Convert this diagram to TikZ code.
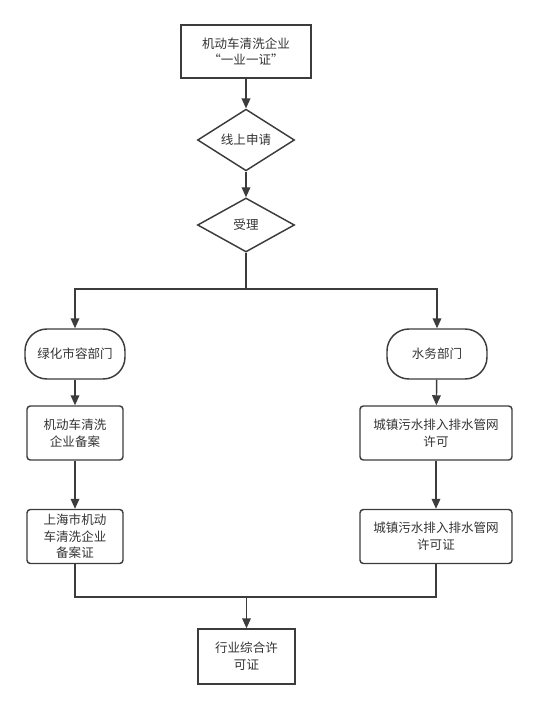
\documentclass[tikz,border=0pt]{standalone}
\usepackage{fontspec}
\setmainfont{Noto Sans CJK SC}
\usetikzlibrary{arrows.meta,shapes.geometric}
\definecolor{ln}{HTML}{3C3C3C}
\definecolor{tx}{HTML}{333333}
\begin{document}
\begin{tikzpicture}[x=0.75pt,y=-0.75pt,
  every node/.style={font=\fontsize{9.4}{12.5}\selectfont,text=tx,align=center,inner sep=0pt},
  sqbox/.style={draw=ln,line width=1.5pt,minimum width=130*0.75pt,minimum height=53*0.75pt},
  endbox/.style={draw=ln,line width=1.1pt,minimum width=97*0.75pt,minimum height=55*0.75pt},
  dia/.style={draw=ln,line width=1.1pt,diamond,minimum width=97*0.75pt,minimum height=54*0.75pt},
  pill/.style={draw=ln,line width=1.1pt,rounded corners=16.5pt,minimum width=100*0.75pt,minimum height=50*0.75pt},
  rbox/.style={draw=ln,line width=1.1pt,rounded corners=2.5pt,minimum height=54*0.75pt},
  con/.style={draw=ln,line width=1.1pt},
  arr/.style={con,-{Triangle[length=7.5pt,width=6.5pt]}}
]
\useasboundingbox (0,0) rectangle (537,709);
\node[sqbox] (top) at (246,51.5) {机动车清洗企业\\“一业一证”};
\node[dia] (d1) at (246,140) {线上申请};
\node[dia] (d2) at (246,225) {受理};
\node[pill] (lp) at (75,354) {绿化市容部门};
\node[pill] (rp) at (437,354) {水务部门};
\node[rbox,minimum width=96*0.75pt] (l1) at (75,433) {机动车清洗\\企业备案};
\node[rbox,minimum width=96*0.75pt] (l2) at (75,536.5) {上海市机动\\车清洗企业\\备案证};
\node[rbox,minimum width=152*0.75pt] (r1) at (436,433) {城镇污水排入排水管网\\许可};
\node[rbox,minimum width=152*0.75pt] (r2) at (436,536.5) {城镇污水排入排水管网\\许可证};
\node[endbox] (fin) at (246.5,656.5) {行业综合许\\可证};
\coordinate (split) at (246,289);
\coordinate (merge) at (246.5,597);
\draw[arr] (top) -- (d1);
\draw[arr] (d1) -- (d2);
\draw[con] (d2.south) -- (split);
\draw[arr] (split) -| (lp.north);
\draw[arr] (split) -| (rp.north);
\draw[arr] (lp) -- (l1);
\draw[arr] (l1) -- (l2);
\draw[arr] (rp) -- (r1);
\draw[arr] (r1) -- (r2);
\draw[con] (l2.south) |- (merge) -| (r2.south);
\draw[arr] (merge) -- (fin);
\end{tikzpicture}
\end{document}
